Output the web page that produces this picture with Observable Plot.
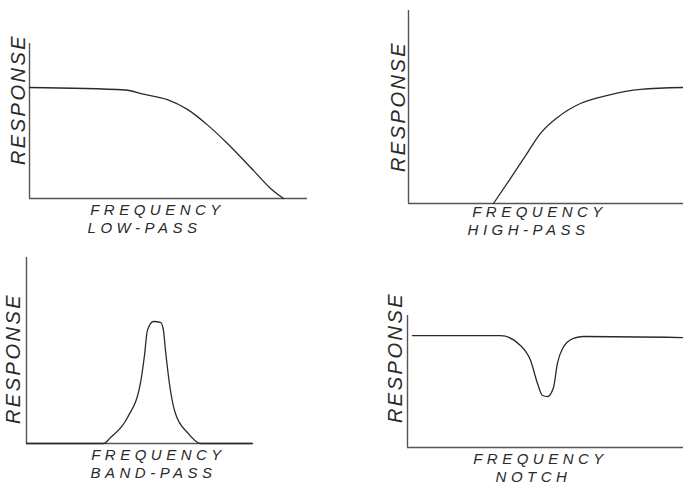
<!DOCTYPE html>
<html>
<head>
<meta charset="utf-8">
<script src="https://cdn.jsdelivr.net/npm/d3@7"></script>
<script src="https://cdn.jsdelivr.net/npm/@observablehq/plot@0.6"></script>
<style>
  body { margin: 0; background: #fff; }
  #chart { position: relative; width: 683px; height: 485px; background: #fff; overflow: hidden; }
  #chart svg { position: absolute; }
</style>
</head>
<body>
<div id="chart"></div>
<script>
// Axis / panel labels
const yLabel = "RESPONSE";
const xLabel = "FREQUENCY";
const panelNames = ["LOW-PASS", "HIGH-PASS", "BAND-PASS", "NOTCH"];

// Low-pass response (frequency 0–100, response 0–100)
const lowFreq = [0, 34.5, 41, 49.6, 56.8, 64, 71.2, 80.6, 86.7, 91.4];
const lowResp = [71.6, 70, 67.3, 63.8, 57.5, 47.5, 35.5, 18, 6.5, 0];

// High-pass response
const highFreq = [30.9, 37.1, 43.3, 48, 54.2, 62.5, 72.4, 84.4, 100];
const highResp = [0, 13, 26.4, 36.3, 44.6, 51.8, 56, 59.1, 60.1];

// Band-pass response
const bandFreq = [0, 34.1, 37.2, 44.7, 50.4, 52.2, 53.5, 56.2, 59.3, 60.6, 61.5, 63.7, 65.9, 71.2, 77, 100];
const bandResp = [0, 0, 3.2, 14, 32.3, 47.3, 60.8, 65.6, 65.1, 60.8, 50, 28.5, 16.1, 5.9, 0, 0];

// Notch response
const notchFreq = [1.8, 33.7, 40.9, 44.6, 47.1, 48.9, 50.7, 52.9, 54.3, 56.2, 60.1, 63.8, 100];
const notchResp = [84.8, 84.8, 77.3, 65.9, 48.5, 39.4, 38.6, 45.5, 63.6, 75, 82.6, 84.1, 83.3];

const toRows = (xs, ys) => xs.map((f, i) => ({freq: f, resp: ys[i]}));

const font = "'Liberation Sans', 'DejaVu Sans', sans-serif";
const ink = "#2a2a2a";

function panel(cfg) {
  const common = {text: d => d, textAnchor: "middle", lineAnchor: "middle", fontStyle: "italic", fill: ink};
  const svg = Plot.plot({
    width: cfg.w, height: cfg.h,
    marginLeft: cfg.ml, marginRight: cfg.mr, marginTop: cfg.mt, marginBottom: cfg.mb,
    x: {domain: [0, 100], axis: null},
    y: {domain: [0, 100], axis: null},
    style: {fontFamily: font, background: "white"},
    marks: [
      Plot.ruleX([0], {stroke: "#555", strokeWidth: 1.4}),
      Plot.ruleY([0], {stroke: "#555", strokeWidth: 1.6}),
      Plot.line(cfg.data, {x: "freq", y: "resp", curve: "monotone-x", stroke: ink, strokeWidth: 1.3}),
      Plot.text([yLabel], {...common, frameAnchor: "top-left", dx: cfg.ry[0], dy: cfg.ry[1], rotate: -90,
        fontSize: 20}),
      Plot.text([xLabel], {...common, frameAnchor: "bottom-left", dx: cfg.fx[0], dy: cfg.fx[1],
        fontSize: 15}),
      Plot.text([cfg.name], {...common, frameAnchor: "bottom-left", dx: cfg.nx[0], dy: cfg.nx[1],
        fontSize: 15})
    ]
  });
  svg.querySelectorAll("text").forEach(t => {
    t.style.letterSpacing = t.textContent === yLabel ? "2.5px" : "4.5px";
  });
  svg.style.left = cfg.left + "px";
  svg.style.top = cfg.top + "px";
  document.getElementById("chart").appendChild(svg);
}

panel({left: 0, top: 0, w: 341, h: 243, ml: 29, mr: 34, mt: 43, mb: 45,
  data: toRows(lowFreq, lowResp), name: panelNames[0],
  ry: [-11, 56], fx: [128, 12], nx: [115, 30]});
panel({left: 341, top: 0, w: 342, h: 243, ml: 67, mr: 0, mt: 10, mb: 40,
  data: toRows(highFreq, highResp), name: panelNames[1],
  ry: [-10, 96], fx: [131, 9], nx: [120, 27]});
panel({left: 0, top: 243, w: 341, h: 242, ml: 26, mr: 89, mt: 14, mb: 42,
  data: toRows(bandFreq, bandResp), name: panelNames[2],
  ry: [-13, 101], fx: [132, 12], nx: [127, 30]});
panel({left: 341, top: 243, w: 342, h: 242, ml: 66, mr: 0, mt: 72, mb: 38,
  data: toRows(notchFreq, notchResp), name: panelNames[3],
  ry: [-12, 42], fx: [133, 11.5], nx: [126, 29.5]});
</script>
</body>
</html>
